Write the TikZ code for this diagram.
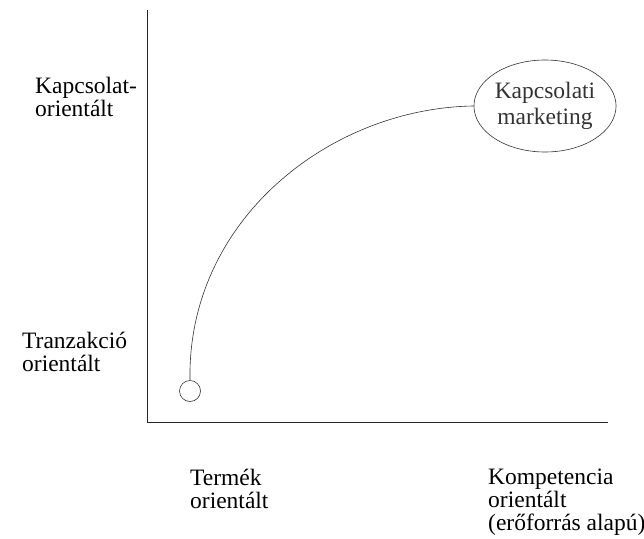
\documentclass[tikz,border=0pt]{standalone}
\usepackage{fontspec}
\setmainfont{Liberation Serif}
\usetikzlibrary{positioning,shapes.geometric}

\begin{document}
\begin{tikzpicture}[
  x=1pt, y=-1pt,
  font=\fontsize{23.5}{23}\selectfont,
  lbl/.style={anchor=north west, inner sep=0pt, align=left},
  axis/.style={line width=0.9pt, black!85},
  curve/.style={line width=0.6pt, black!80}
]
\useasboundingbox (0,0) rectangle (644,538);
\coordinate (origin) at (147,422);
\coordinate (ytop) at (147,10);
\coordinate (xend) at (608,422);
\draw[axis] (ytop) -- (origin) -- (xend);
\node[lbl] (kapL) at (35,77) {Kapcsolat-\\orientált};
\node[lbl] (tranL) at (22,332) {Tranzakció\\orientált};
\node[lbl] (termL) at (190,469) {Termék\\orientált};
\node[lbl] (kompL) at (488,469) {Kompetencia\\orientált\\(erőforrás alapú)};
\node[circle, draw, curve, minimum size=21pt, inner sep=0pt] (start) at (190,391) {};
\node[ellipse, draw, curve, minimum width=124pt, minimum height=92pt,
  inner sep=0pt, align=center, font=\fontsize{23.5}{26}\selectfont] (km) at (545,106)
  {Kapcsolati\\marketing};
\draw[curve] (start.north) .. controls (187,220) and (330,108) .. (km.west);
\end{tikzpicture}
\end{document}
